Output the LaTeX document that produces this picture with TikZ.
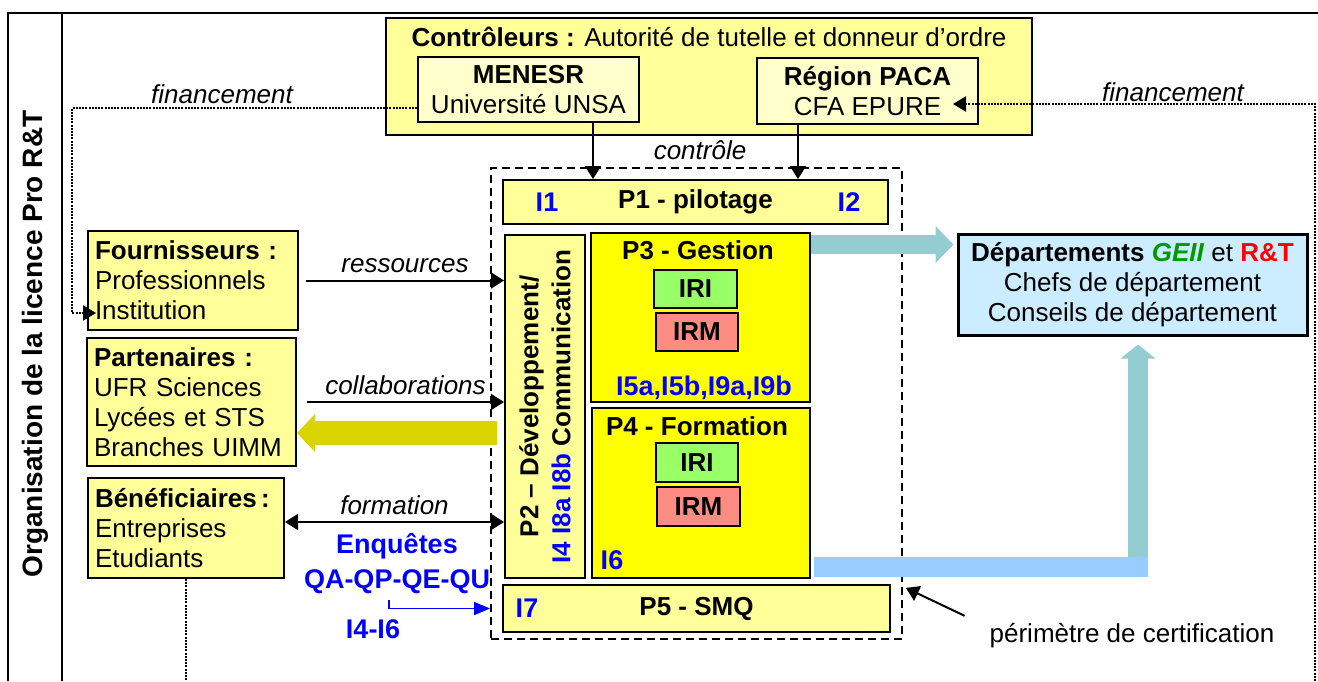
\documentclass[tikz,border=0pt]{standalone}
\usepackage{fontspec}
\setmainfont{Liberation Sans}
\usetikzlibrary{arrows.meta}

\definecolor{jaune}{HTML}{FFFF99}
\definecolor{jaunepale}{HTML}{FFFFCC}
\definecolor{jaunevif}{HTML}{FFFF00}
\definecolor{vertiri}{HTML}{99FF66}
\definecolor{rougeirm}{HTML}{FF8C82}
\definecolor{bleudep}{HTML}{CCECFF}
\definecolor{turquoise}{HTML}{93CDD1}
\definecolor{bleuclair}{HTML}{99CCFF}
\definecolor{kaki}{HTML}{D9D400}
\definecolor{bleutxt}{HTML}{0000FF}
\definecolor{vertgeii}{HTML}{009900}

\tikzset{
  boite/.style={draw, line width=1pt, inner sep=0pt, align=center},
  acteur/.style={boite, fill=jaune, align=left, inner xsep=3.5pt},
  gras/.style={font=\fontsize{13}{15}\selectfont\bfseries},
  lbl/.style={font=\fontsize{13}{15}\selectfont\itshape},
  indic/.style={text=bleutxt, font=\fontsize{13.5}{16}\selectfont\bfseries, anchor=base},
  fleche/.style={line width=1pt, -{Triangle[length=6.5pt,width=8pt]}},
  finance/.style={line width=1pt, dash pattern=on 1pt off 0.6pt},
}

\begin{document}
\begin{tikzpicture}[x=0.5pt, y=-0.5pt, font=\fontsize{13}{15}\selectfont]
  \useasboundingbox (0,0) rectangle (1318,681);

  % 表格边框与竖排标题
  \draw[line width=1pt] (8,681) -- (8,13) -- (1318,13);
  \draw[line width=1pt] (62,13) -- (62,681);
  \node[rotate=90, font=\fontsize{14}{16}\selectfont\bfseries] (titre) at (35,344) {Organisation de la licence Pro R\&T};

  % 认证范围（虚线框）
  \node[draw, line width=0.9pt, dash pattern=on 4pt off 2.5pt, minimum width=205.5pt, minimum height=235.5pt] (perim) at (696.5,403.5) {};

  % 控制者
  \node[boite, fill=jaune, minimum width=323pt, minimum height=58.5pt] (ctrl) at (709,76.5) {};
  \node[anchor=base] (ctrlt) at (709,46) {\textbf{Contrôleurs :} Autorité de tutelle et donneur d’ordre};
  \node[boite, fill=jaunepale, minimum width=110.5pt, minimum height=32.5pt] (menesr) at (528.5,89.5) {\textbf{MENESR}\\Université UNSA};
  \node[boite, fill=jaunepale, minimum width=110.5pt, minimum height=33pt] (region) at (867.5,91) {\textbf{Région PACA}\\CFA EPURE};

  % 过程 P1 - P5
  \node[boite, fill=jaune, gras, minimum width=192.5pt, minimum height=22pt] (p1) at (695.5,202) {P1 - pilotage};
  \node[indic, anchor=center] (i1) at ([xshift=22.5pt]p1.west) {I1};
  \node[indic, anchor=center] (i2) at ([xshift=-20pt]p1.east) {I2};

  \node[boite, fill=jaune, minimum width=40pt, minimum height=171.5pt] (p2) at (545,406.5) {};
  \node[rotate=90, align=center, font=\fontsize{13}{16}\selectfont\bfseries] (p2t) at (p2.center) {P2 – Développement/\\\textcolor{bleutxt}{I4 I8a I8b} Communication};

  \node[boite, fill=jaunevif, minimum width=109.5pt, minimum height=84.5pt] (p3) at (700.5,317.5) {};
  \node[gras, anchor=base] (p3t) at (698,259) {P3 - Gestion};
  \node[boite, fill=vertiri, gras, minimum width=41.5pt, minimum height=19pt] (iri3) at (695.5,289) {IRI};
  \node[boite, fill=rougeirm, gras, minimum width=41pt, minimum height=19pt] (irm3) at (697,332) {IRM};
  \node[indic] (i5) at (704,395) {I5a,I5b,I9a,I9b};

  \node[boite, fill=jaunevif, minimum width=109pt, minimum height=85pt] (p4) at (701,493) {};
  \node[gras, anchor=base] (p4t) at (697,435) {P4 - Formation};
  \node[boite, fill=vertiri, gras, minimum width=41pt, minimum height=19.5pt] (iri4) at (697,462.5) {IRI};
  \node[boite, fill=rougeirm, gras, minimum width=41.5pt, minimum height=19.5pt] (irm4) at (698.5,506.5) {IRM};
  \node[indic] (i6) at (612,569) {I6};

  \node[boite, fill=jaune, gras, minimum width=193.5pt, minimum height=23.5pt] (p5) at (696.5,608.5) {P5 - SMQ};
  \node[indic, anchor=center] (i7) at ([xshift=12.5pt]p5.west) {I7};

  % 各系
  \node[boite, line width=1.5pt, fill=bleudep, minimum width=174.5pt, minimum height=50.5pt] (dept) at (1132.5,284.5)
    {\textbf{Départements} \textcolor{vertgeii}{\textbf{\textit{GEII}}} et \textcolor{red}{\textbf{R\&T}}\\Chefs de département\\Conseils de département};

  % 外部参与者
  \node[acteur, text width=98pt, minimum height=49.5pt] (fourn) at (193,280.5) {\textbf{Fournisseurs :}\\Professionnels\\Institution};
  \node[acteur, text width=97.5pt, minimum height=64pt] (part) at (191.5,402) {\textbf{Partenaires :}\\UFR Sciences\\Lycées et STS\\Branches UIMM};
  \node[acteur, text width=91pt, minimum height=50pt] (benef) at (186,528) {\textbf{Bénéficiaires\,:}\\Entreprises\\Etudiants};

  % 宽箭头
  \coordinate (coin) at (1138,567);
  \draw[turquoise, line width=9.5pt, -{Triangle[length=9pt,width=18pt]}, shorten >=1.5pt] ([yshift=36.5pt]p3.east) -- ([yshift=36.5pt]p3.east -| dept.west);
  \draw[turquoise, line width=10pt, -{Triangle[length=7pt,width=17pt]}, shorten >=4pt] ([yshift=5pt]coin) -- (coin |- dept.south);
  \draw[bleuclair, line width=10pt] ([xshift=1.5pt]p4.east |- coin) -- ([xshift=5pt]coin);
  \coordinate (olv) at ([xshift=-3.5pt,yshift=-13.25pt]p2.west);
  \draw[kaki, line width=12pt, -{Triangle[length=9pt,width=18.5pt]}] (olv) -- (olv -| part.east);

  % 控制箭头
  \draw[fleche] ([xshift=32.25pt]menesr.south) -- ([xshift=32.25pt]menesr.south |- p1.north);
  \draw[fleche] ([xshift=-34.75pt]region.south) -- ([xshift=-34.75pt]region.south |- p1.north);
  \node[lbl, anchor=base] (ctl) at (700,159) {contrôle};

  % 资金（点线）
  \coordinate (finG) at (72,108);
  \coordinate (finD) at (1315,681);
  \coordinate (bas) at (0,681);
  \draw[finance, -{Triangle[length=6.5pt,width=7.5pt]}] ([yshift=-9.25pt]menesr.west) -- (finG) |- ([xshift=4.5pt,yshift=-16.25pt]fourn.west);
  \draw[finance, -{Triangle[length=6.5pt,width=7.5pt]}] (finD) |- ([xshift=-13pt,yshift=-6.5pt]region.east);
  \draw[finance] (benef.south) -- (benef.south |- bas);
  \node[lbl, anchor=base] (fin1) at (222,103) {financement};
  \node[lbl, anchor=base] (fin2) at (1173,101) {financement};

  % 输入输出箭头
  \draw[fleche] ([xshift=3.5pt]fourn.east) -- (fourn.east -| p2.west) node[midway, above, lbl] {ressources};
  \draw[fleche] ([xshift=5pt]part.east) -- (part.east -| p2.west) node[midway, above, lbl] {collaborations};
  \draw[fleche, {Triangle[length=6.5pt,width=8pt]}-{Triangle[length=6.5pt,width=8pt]}] ([yshift=3pt]benef.east) -- ([yshift=3pt]benef.east -| p2.west) node[midway, above, lbl] {formation};

  % 调查
  \node[indic] (enq) at (397,553) {Enquêtes};
  \node[indic] (qa) at (397,588) {QA-QP-QE-QU};
  \node[indic] (i46) at (373,638) {I4-I6};
  \draw[bleutxt, line width=0.7pt, -{Triangle[length=8pt,width=6.5pt]}] ([xshift=-4pt]qa.south) |- (p5.west -| perim.west);

  % 认证范围标注
  \node[anchor=base] (cert) at (1132,642) {périmètre de certification};
  \draw[fleche] ([xshift=-9pt]cert.north west) -- ([xshift=1.5pt,yshift=26pt]perim.south east);
\end{tikzpicture}
\end{document}
